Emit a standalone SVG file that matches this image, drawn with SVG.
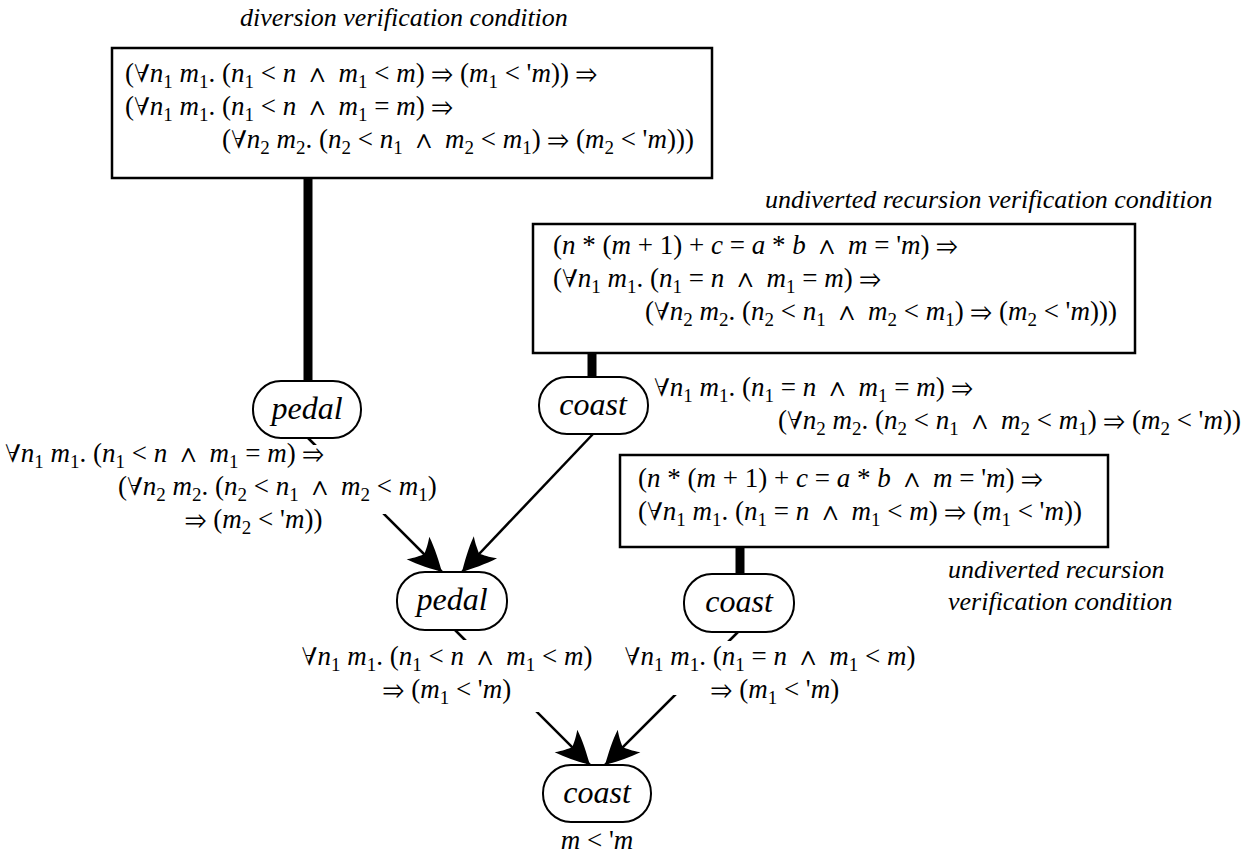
<svg xmlns="http://www.w3.org/2000/svg" width="1252" height="860" viewBox="0 0 1252 860" font-family="'Liberation Serif', 'Times New Roman', Times, 'Nimbus Roman', FreeSerif, 'DejaVu Serif', 'Noto Serif', serif">
  <style>
    .bg { fill: #ffffff; }
    .box { fill: #ffffff; stroke: #000; stroke-width: 2.5; }
    .node { fill: #ffffff; stroke: #000; stroke-width: 2; }
    .thick { stroke: #000; stroke-width: 9; fill: none; }
    .edge { stroke: #000; stroke-width: 2.5; fill: none; marker-end: url(#head); }
    .m { font-family: 'Liberation Serif', 'Times New Roman', Times, 'Nimbus Roman', FreeSerif, 'DejaVu Serif', 'Noto Serif', serif; font-size: 27px; fill: #000; }
    .v { font-style: italic; }
    .s { font-size: 19px; baseline-shift: -6px; }
    .cap { font-family: 'Liberation Serif', 'Times New Roman', Times, 'Nimbus Roman', FreeSerif, 'DejaVu Serif', 'Noto Serif', serif; font-size: 26px; font-style: italic; fill: #000; }
    .nt { font-family: 'Liberation Serif', 'Times New Roman', Times, 'Nimbus Roman', FreeSerif, 'DejaVu Serif', 'Noto Serif', serif; font-size: 32px; font-style: italic; fill: #000; text-anchor: middle; }
    .mask { fill: #ffffff; }
  </style>
  <defs>
    <marker id="head" viewBox="-36 -18 38 36" refX="0" refY="0" markerWidth="38" markerHeight="36" markerUnits="userSpaceOnUse" orient="auto">
      <path d="M0,0 C-9,-5 -22,-12 -34,-16 C-29,-9 -27,-4 -25,0 C-27,4 -29,9 -34,16 C-22,12 -9,5 0,0 Z" fill="#000"/>
    </marker>
  </defs>

  <rect class="bg" x="0" y="0" width="1252" height="860"/>

  <!-- connectors: thick ties from conditions to their nodes, and the proof arrows -->
  <g id="connectors">
    <line class="thick" x1="308" y1="178" x2="308" y2="382"/>
    <line class="thick" x1="592" y1="353" x2="592" y2="378"/>
    <line class="thick" x1="740" y1="547" x2="740" y2="574"/>
    <path class="edge" d="M308,438 L442,572"/>
    <path class="edge" d="M593,434 L462,572"/>
    <path class="edge" d="M455,630 L590,765"/>
    <path class="edge" d="M738,632 L605,765"/>
  </g>

  <!-- diversion verification condition -->
  <g id="cond-diversion">
    <text class="cap" x="240" y="26">diversion verification condition</text>
    <rect class="box" x="112" y="48" width="600" height="130"/>
    <text class="m" x="125" y="82" xml:space="preserve">(∀<tspan class="v">n</tspan><tspan class="s">1</tspan> <tspan class="v">m</tspan><tspan class="s">1</tspan>. (<tspan class="v">n</tspan><tspan class="s">1</tspan> &lt; <tspan class="v">n</tspan>  ∧  <tspan class="v">m</tspan><tspan class="s">1</tspan> &lt; <tspan class="v">m</tspan>) ⇒ (<tspan class="v">m</tspan><tspan class="s">1</tspan> &lt; '<tspan class="v">m</tspan>)) ⇒</text>
    <text class="m" x="125" y="115" xml:space="preserve">(∀<tspan class="v">n</tspan><tspan class="s">1</tspan> <tspan class="v">m</tspan><tspan class="s">1</tspan>. (<tspan class="v">n</tspan><tspan class="s">1</tspan> &lt; <tspan class="v">n</tspan>  ∧  <tspan class="v">m</tspan><tspan class="s">1</tspan> = <tspan class="v">m</tspan>) ⇒</text>
    <text class="m" x="222" y="148" xml:space="preserve">(∀<tspan class="v">n</tspan><tspan class="s">2</tspan> <tspan class="v">m</tspan><tspan class="s">2</tspan>. (<tspan class="v">n</tspan><tspan class="s">2</tspan> &lt; <tspan class="v">n</tspan><tspan class="s">1</tspan>  ∧  <tspan class="v">m</tspan><tspan class="s">2</tspan> &lt; <tspan class="v">m</tspan><tspan class="s">1</tspan>) ⇒ (<tspan class="v">m</tspan><tspan class="s">2</tspan> &lt; '<tspan class="v">m</tspan>)))</text>
  </g>

  <!-- undiverted recursion verification condition (upper) -->
  <g id="cond-undiverted-1">
    <text class="cap" x="765" y="208">undiverted recursion verification condition</text>
    <rect class="box" x="533" y="224" width="602" height="129"/>
    <text class="m" x="553" y="254" xml:space="preserve">(<tspan class="v">n</tspan> * (<tspan class="v">m</tspan> + 1) + <tspan class="v">c</tspan> = <tspan class="v">a</tspan> * <tspan class="v">b</tspan>  ∧  <tspan class="v">m</tspan> = '<tspan class="v">m</tspan>) ⇒</text>
    <text class="m" x="553" y="287" xml:space="preserve">(∀<tspan class="v">n</tspan><tspan class="s">1</tspan> <tspan class="v">m</tspan><tspan class="s">1</tspan>. (<tspan class="v">n</tspan><tspan class="s">1</tspan> = <tspan class="v">n</tspan>  ∧  <tspan class="v">m</tspan><tspan class="s">1</tspan> = <tspan class="v">m</tspan>) ⇒</text>
    <text class="m" x="645" y="320" xml:space="preserve">(∀<tspan class="v">n</tspan><tspan class="s">2</tspan> <tspan class="v">m</tspan><tspan class="s">2</tspan>. (<tspan class="v">n</tspan><tspan class="s">2</tspan> &lt; <tspan class="v">n</tspan><tspan class="s">1</tspan>  ∧  <tspan class="v">m</tspan><tspan class="s">2</tspan> &lt; <tspan class="v">m</tspan><tspan class="s">1</tspan>) ⇒ (<tspan class="v">m</tspan><tspan class="s">2</tspan> &lt; '<tspan class="v">m</tspan>)))</text>
  </g>

  <!-- undiverted recursion verification condition (lower) -->
  <g id="cond-undiverted-2">
    <rect class="box" x="620" y="455" width="488" height="92"/>
    <text class="m" x="638" y="487" xml:space="preserve">(<tspan class="v">n</tspan> * (<tspan class="v">m</tspan> + 1) + <tspan class="v">c</tspan> = <tspan class="v">a</tspan> * <tspan class="v">b</tspan>  ∧  <tspan class="v">m</tspan> = '<tspan class="v">m</tspan>) ⇒</text>
    <text class="m" x="638" y="520" xml:space="preserve">(∀<tspan class="v">n</tspan><tspan class="s">1</tspan> <tspan class="v">m</tspan><tspan class="s">1</tspan>. (<tspan class="v">n</tspan><tspan class="s">1</tspan> = <tspan class="v">n</tspan>  ∧  <tspan class="v">m</tspan><tspan class="s">1</tspan> &lt; <tspan class="v">m</tspan>) ⇒ (<tspan class="v">m</tspan><tspan class="s">1</tspan> &lt; '<tspan class="v">m</tspan>))</text>
    <text class="cap" x="948" y="578">undiverted recursion</text>
    <text class="cap" x="948" y="610">verification condition</text>
  </g>

  <!-- upper pedal step -->
  <g id="pedal-1">
    <rect class="node" x="253" y="381" width="108" height="57" rx="28"/>
    <text class="nt" x="307" y="419">pedal</text>
  </g>
  <g id="pedal-1-label">
    <rect class="mask" x="0" y="445" width="442" height="69"/>
    <text class="m" x="5" y="462" xml:space="preserve">∀<tspan class="v">n</tspan><tspan class="s">1</tspan> <tspan class="v">m</tspan><tspan class="s">1</tspan>. (<tspan class="v">n</tspan><tspan class="s">1</tspan> &lt; <tspan class="v">n</tspan>  ∧  <tspan class="v">m</tspan><tspan class="s">1</tspan> = <tspan class="v">m</tspan>) ⇒</text>
    <text class="m" x="118" y="495" xml:space="preserve">(∀<tspan class="v">n</tspan><tspan class="s">2</tspan> <tspan class="v">m</tspan><tspan class="s">2</tspan>. (<tspan class="v">n</tspan><tspan class="s">2</tspan> &lt; <tspan class="v">n</tspan><tspan class="s">1</tspan>  ∧  <tspan class="v">m</tspan><tspan class="s">2</tspan> &lt; <tspan class="v">m</tspan><tspan class="s">1</tspan>)</text>
    <text class="m" x="185" y="528" xml:space="preserve">⇒ (<tspan class="v">m</tspan><tspan class="s">2</tspan> &lt; '<tspan class="v">m</tspan>))</text>
  </g>

  <!-- upper coast step -->
  <g id="coast-1">
    <rect class="node" x="539" y="377" width="109" height="57" rx="28"/>
    <text class="nt" x="593" y="415">coast</text>
  </g>
  <g id="coast-1-label">
    <text class="m" x="654" y="396" xml:space="preserve">∀<tspan class="v">n</tspan><tspan class="s">1</tspan> <tspan class="v">m</tspan><tspan class="s">1</tspan>. (<tspan class="v">n</tspan><tspan class="s">1</tspan> = <tspan class="v">n</tspan>  ∧  <tspan class="v">m</tspan><tspan class="s">1</tspan> = <tspan class="v">m</tspan>) ⇒</text>
    <text class="m" x="778" y="429" xml:space="preserve">(∀<tspan class="v">n</tspan><tspan class="s">2</tspan> <tspan class="v">m</tspan><tspan class="s">2</tspan>. (<tspan class="v">n</tspan><tspan class="s">2</tspan> &lt; <tspan class="v">n</tspan><tspan class="s">1</tspan>  ∧  <tspan class="v">m</tspan><tspan class="s">2</tspan> &lt; <tspan class="v">m</tspan><tspan class="s">1</tspan>) ⇒ (<tspan class="v">m</tspan><tspan class="s">2</tspan> &lt; '<tspan class="v">m</tspan>))</text>
  </g>

  <!-- middle pedal step -->
  <g id="pedal-2">
    <rect class="node" x="397" y="572" width="110" height="58" rx="28"/>
    <text class="nt" x="452" y="610">pedal</text>
  </g>
  <g id="pedal-2-label">
    <rect class="mask" x="296" y="640" width="300" height="72"/>
    <text class="m" x="447" y="665" text-anchor="middle" xml:space="preserve">∀<tspan class="v">n</tspan><tspan class="s">1</tspan> <tspan class="v">m</tspan><tspan class="s">1</tspan>. (<tspan class="v">n</tspan><tspan class="s">1</tspan> &lt; <tspan class="v">n</tspan>  ∧  <tspan class="v">m</tspan><tspan class="s">1</tspan> &lt; <tspan class="v">m</tspan>)</text>
    <text class="m" x="447" y="698" text-anchor="middle" xml:space="preserve">⇒ (<tspan class="v">m</tspan><tspan class="s">1</tspan> &lt; '<tspan class="v">m</tspan>)</text>
  </g>

  <!-- middle coast step -->
  <g id="coast-2">
    <rect class="node" x="684" y="574" width="110" height="58" rx="28"/>
    <text class="nt" x="739" y="612">coast</text>
  </g>
  <g id="coast-2-label">
    <rect class="mask" x="620" y="641" width="302" height="54"/>
    <text class="m" x="770" y="665" text-anchor="middle" xml:space="preserve">∀<tspan class="v">n</tspan><tspan class="s">1</tspan> <tspan class="v">m</tspan><tspan class="s">1</tspan>. (<tspan class="v">n</tspan><tspan class="s">1</tspan> = <tspan class="v">n</tspan>  ∧  <tspan class="v">m</tspan><tspan class="s">1</tspan> &lt; <tspan class="v">m</tspan>)</text>
    <text class="m" x="775" y="698" text-anchor="middle" xml:space="preserve">⇒ (<tspan class="v">m</tspan><tspan class="s">1</tspan> &lt; '<tspan class="v">m</tspan>)</text>
  </g>

  <!-- final coast step -->
  <g id="coast-3">
    <rect class="node" x="543" y="765" width="108" height="57" rx="28"/>
    <text class="nt" x="597" y="803">coast</text>
  </g>
  <g id="coast-3-label">
    <text class="m" x="597" y="849" text-anchor="middle" xml:space="preserve"><tspan class="v">m</tspan> &lt; '<tspan class="v">m</tspan></text>
  </g>
</svg>
